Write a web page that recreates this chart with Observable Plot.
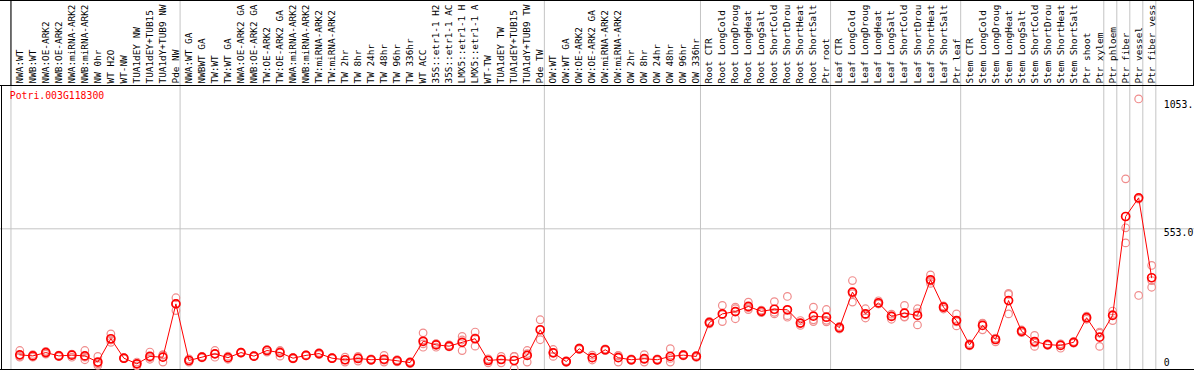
<!DOCTYPE html>
<html><head><meta charset="utf-8">
<script src="https://cdn.jsdelivr.net/npm/d3@7"></script>
<script src="https://cdn.jsdelivr.net/npm/@observablehq/plot@0.6"></script>
<style>
html,body{margin:0;padding:0;background:#fff;overflow:hidden}
#chart svg{display:block}
</style></head><body><div id="chart"></div>
<script>
const geneName = "Potri.003G118300";
const samples = [
  "NWA:WT","NWB:WT","NWA:OE-ARK2","NWB:OE-ARK2","NWA:miRNA-ARK2","NWB:miRNA-ARK2","NW 0hr","WT H2O","WT-NW","TUA1dEY NW","TUA1dEY+TUB15","TUA1dY+TUB9 NW","Pde NW",
  "NWA:WT GA","NWBWT GA","TW:WT","TW:WT GA","NWA:OE-ARK2 GA","NWB:OE-ARK2 GA","TW:OE-ARK2","TW:OE-ARK2 GA","NWA:miRNA-ARK2","NWB:miRNA-ARK2","TW:miRNA-ARK2","TW:miRNA-ARK2","TW 2hr","TW 8hr","TW 24hr","TW 48hr","TW 96hr","TW 336hr","WT ACC","35S::etr1-1 H2","35S::etr1-1 AC","LMX5::etr1-1 H","LMX5::etr1-1 A","WT-TW","TUA1dEY TW","TUA1dEY+TUB15","TUA1dY+TUB9 TW","Pde TW",
  "OW:WT","OW:WT GA","OW:OE-ARK2","OW:OE-ARK2 GA","OW:miRNA-ARK2","OW:miRNA-ARK2","OW 2hr","OW 8hr","OW 24hr","OW 48hr","OW 96hr","OW 336hr",
  "Root CTR","Root LongCold","Root LongDroug","Root LongHeat","Root LongSalt","Root ShortCold","Root ShortDrou","Root ShortHeat","Root ShortSalt","Ptr root",
  "Leaf CTR","Leaf LongCold","Leaf LongDroug","Leaf LongHeat","Leaf LongSalt","Leaf ShortCold","Leaf ShortDrou","Leaf ShortHeat","Leaf ShortSalt","Ptr leaf",
  "Stem CTR","Stem LongCold","Stem LongDroug","Stem LongHeat","Stem LongSalt","Stem ShortCold","Stem ShortDrou","Stem ShortHeat","Stem ShortSalt","Ptr shoot","Ptr xylem",
  "Ptr phloem","Ptr fiber","Ptr vessel","Ptr fiber vess"
];
const groupSizes = [13, 28, 12, 10, 10, 11, 1, 1, 1, 1];
const means = [61,57,70,57,60,57,33,124,48,26,55,52,260,
  39,52,65,50,70,56,78,70,48,59,66,48,42,47,42,44,38,31,114,100,95,110,124,39,43,39,59,159,
  69,35,85,50,81,50,42,46,42,55,60,55,
  187,221,230,250,231,239,237,185,212,208,
  167,306,221,264,211,224,215,354,247,195,
  100,176,121,273,153,113,101,98,110,206,130,
  215,601,674,362];
const rep1 = [78,62,75,60,64,78,55,143,50,33,72,60,284,
  45,55,78,56,72,58,80,78,50,61,70,50,52,55,45,59,42,35,147,104,100,133,150,45,55,55,78,198,
  82,38,88,60,84,59,45,62,45,85,63,59,
  192,254,241,267,236,269,289,195,247,238,
  172,351,241,272,220,254,241,373,240,221,
  105,185,126,297,158,137,104,104,113,212,146,
  232,748,1060,410];
const rep2 = [52,52,64,54,52,42,26,110,46,18,50,33,234,
  33,49,52,44,68,54,72,56,45,57,62,46,33,37,39,33,34,27,91,91,92,78,95,30,30,7,33,120,
  55,32,82,41,78,33,39,33,39,33,57,51,
  182,191,202,238,226,221,214,176,191,190,
  162,267,205,260,200,210,178,340,252,190,
  96,159,112,221,148,94,98,87,107,200,94,
  195,557,293,325];
const rep3 = [55,57,70,57,63,52,20,119,48,26,44,62,262,
  39,52,65,50,70,56,82,76,49,59,66,48,41,49,42,40,38,31,104,105,93,119,127,42,44,55,66,159,
  70,35,85,49,81,58,42,43,42,47,60,55,
  187,218,247,245,231,227,208,184,198,196,
  167,300,217,260,213,208,226,349,249,174,
  99,184,125,301,153,108,101,103,110,206,150,
  218,498,669,351];
const yTicks = [0, 553, 1053];
const yTickLabels = ["0", "553.0", "1053."];
const gridValues = [553];

const W = 1194, H = 370, headerH = 85, step = 13.01, firstX = 19.3;
const idx = samples.map((_, i) => i);
const boundaries = [-0.68];
{ let acc = 0; for (const g of groupSizes) { acc += g; boundaries.push(acc - 0.68); } }
const reps = [];
idx.forEach(i => [rep1, rep2, rep3].forEach(r => reps.push({i, v: r[i]})));
const meanData = idx.map(i => ({i, v: means[i]}));

const plot = Plot.plot({
  width: W, height: H,
  marginTop: headerH, marginBottom: 0, marginLeft: 0, marginRight: 0,
  x: {type: "linear", domain: [-firstX / step, (W - firstX) / step], axis: null},
  y: {domain: [0, 1112.4], axis: null},
  style: {fontFamily: "'DejaVu Sans Mono', monospace", fontSize: "9.8px", overflow: "hidden", background: "#fff", color: "black"},
  marks: [
    Plot.ruleY(gridValues, {stroke: "#c4c4c4"}),
    Plot.ruleX(boundaries, {stroke: "#c4c4c4", insetTop: -headerH}),
    Plot.ruleX([boundaries[0]], {stroke: "black", insetTop: -headerH, insetBottom: H - headerH}),
    Plot.frame({anchor: "top", stroke: "black"}),
    Plot.frame({anchor: "top", stroke: "black", insetTop: -headerH}),
    Plot.frame({anchor: "left", stroke: "black", insetLeft: 1}),
    Plot.frame({anchor: "bottom", stroke: "black", insetBottom: 1}),
    Plot.frame({anchor: "right", stroke: "black", insetRight: 1, insetTop: -headerH, insetBottom: H - headerH}),
    Plot.text(idx, {x: d => d, frameAnchor: "top", dy: -2, rotate: -90, textAnchor: "start", lineAnchor: "middle", text: d => samples[d], fill: "black", fontSize: 9.4}),
    Plot.text([geneName], {frameAnchor: "top-left", dx: 9.3, dy: 7, textAnchor: "start", lineAnchor: "top", fill: "red"}),
    Plot.text(yTicks.filter(d => d > 0), {y: d => d, frameAnchor: "right", dx: -30.7, textAnchor: "start", lineAnchor: "top", text: d => yTickLabels[yTicks.indexOf(d)], fill: "black"}),
    Plot.text(yTicks.filter(d => d === 0), {y: d => d, frameAnchor: "right", dx: -30.7, dy: -5, textAnchor: "start", lineAnchor: "bottom", text: d => yTickLabels[yTicks.indexOf(d)], fill: "black"}),
    Plot.dot(reps, {x: "i", y: "v", r: 3.8, stroke: "#f08c8c", strokeWidth: 1.2, fill: "none"}),
    Plot.line(meanData, {x: "i", y: "v", stroke: "red", strokeWidth: 1}),
    Plot.dot(meanData, {x: "i", y: "v", r: 4, stroke: "red", strokeWidth: 1.7, fill: "none"})
  ]
});
document.getElementById("chart").appendChild(plot);
</script></body></html>
